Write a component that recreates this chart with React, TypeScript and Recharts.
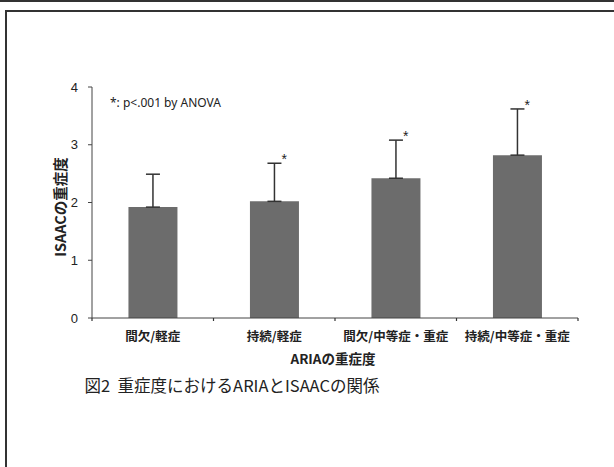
import { Bar, ComposedChart, ErrorBar, Line, XAxis, YAxis } from "recharts"

const categories = ["間欠/軽症", "持続/軽症", "間欠/中等症・重症", "持続/中等症・重症"]
const means = [1.92, 2.02, 2.42, 2.82]
const sds = [0.57, 0.66, 0.66, 0.8]
const significant = [false, true, true, true]
const yTicks = [0, 1, 2, 3, 4]

const data = categories.map((name, i) => ({
  name,
  mean: means[i],
  err: [0, sds[i]],
  sigTop: significant[i] ? means[i] + sds[i] : null,
}))

const jp = '"Noto Sans CJK JP", sans-serif'
const catMargin = 14

const Star = (props: any) => {
  const { cx, cy, value } = props
  if (value == null || cy == null) return <g key={props.key} />
  return (
    <text key={props.key} x={cx + 10} y={cy + 1} textAnchor="middle" fontSize={14} fill="#222" fontFamily="Arial, sans-serif">
      *
    </text>
  )
}

// category label plus the small boundary ticks between categories
const CatTick = (props: any) => {
  const { x, y, payload, index, visibleTicksCount } = props
  const half = payload.offset || 0
  const axisY = y - catMargin
  return (
    <g>
      <line x1={x - half} x2={x - half} y1={axisY} y2={axisY + 3} stroke="#333" strokeWidth={1.2} />
      {index === visibleTicksCount - 1 && (
        <line x1={x + half} x2={x + half} y1={axisY} y2={axisY + 3} stroke="#333" strokeWidth={1.2} />
      )}
      <text x={x} y={y} dy="0.71em" textAnchor="middle" fill="#222" fontSize={12.5} fontWeight="bold" fontFamily={jp}>
        {payload.value}
      </text>
    </g>
  )
}

export default function App() {
  return (
    <div style={{ position: "absolute", left: 0, top: 0, width: 614, height: 467, background: "#fff", overflow: "hidden" }}>
      <div style={{ position: "absolute", left: 0, top: 0, width: 614, height: 2, background: "#333" }} />
      <div style={{ position: "absolute", left: 5, top: 10, width: 620, height: 470, borderLeft: "2px solid #333", borderTop: "2px solid #333" }} />
      <ComposedChart
        width={614}
        height={467}
        data={data}
        barCategoryGap="30%"
        margin={{ top: 87, right: 36, left: 52, bottom: 119 }}
        style={{ position: "absolute", left: 0, top: 0 }}
      >
        <XAxis
          dataKey="name"
          height={30}
          tickLine={false}
          tickSize={0}
          stroke="#444"
          tickMargin={catMargin}
          tick={CatTick}
          interval={0}
        />
        <YAxis
          domain={[0, 4]}
          ticks={yTicks}
          width={40}
          tickSize={4}
          tickMargin={10}
          stroke="#444"
          tick={{ fill: "#222", fontSize: 13, fontFamily: "Arial, sans-serif" }}
        />
        <Bar dataKey="mean" fill="#6c6c6c" isAnimationActive={false}>
          <ErrorBar dataKey="err" direction="y" width={7} stroke="#333" strokeWidth={1.5} />
        </Bar>
        <Line dataKey="sigTop" stroke="none" dot={Star} activeDot={false} isAnimationActive={false} legendType="none" />
      </ComposedChart>
      <div style={{ position: "absolute", left: 110, top: 95, fontSize: 12, fontFamily: '"Noto Sans", sans-serif', color: "#222", whiteSpace: "nowrap", lineHeight: "16px" }}>
        *: p&lt;.001 by ANOVA
      </div>
      <div
        style={{
          position: "absolute",
          left: 60,
          top: 207,
          transform: "translate(-50%, -50%) rotate(-90deg)",
          fontSize: 14.5,
          fontWeight: "bold",
          fontFamily: jp,
          color: "#222",
          whiteSpace: "nowrap",
          lineHeight: "16px",
        }}
      >
        ISAACの重症度
      </div>
      <div
        style={{
          position: "absolute",
          left: 333,
          top: 358,
          transform: "translate(-50%, -50%)",
          fontSize: 13.5,
          fontWeight: "bold",
          fontFamily: jp,
          color: "#222",
          whiteSpace: "nowrap",
          lineHeight: "16px",
        }}
      >
        ARIAの重症度
      </div>
      <div
        style={{
          position: "absolute",
          left: 232,
          top: 385,
          transform: "translate(-50%, -50%)",
          fontSize: 16.5,
          fontFamily: jp,
          color: "#222",
          whiteSpace: "nowrap",
          lineHeight: "22px",
        }}
      >
        図2&nbsp;&nbsp;重症度におけるARIAとISAACの関係
      </div>
    </div>
  )
}
